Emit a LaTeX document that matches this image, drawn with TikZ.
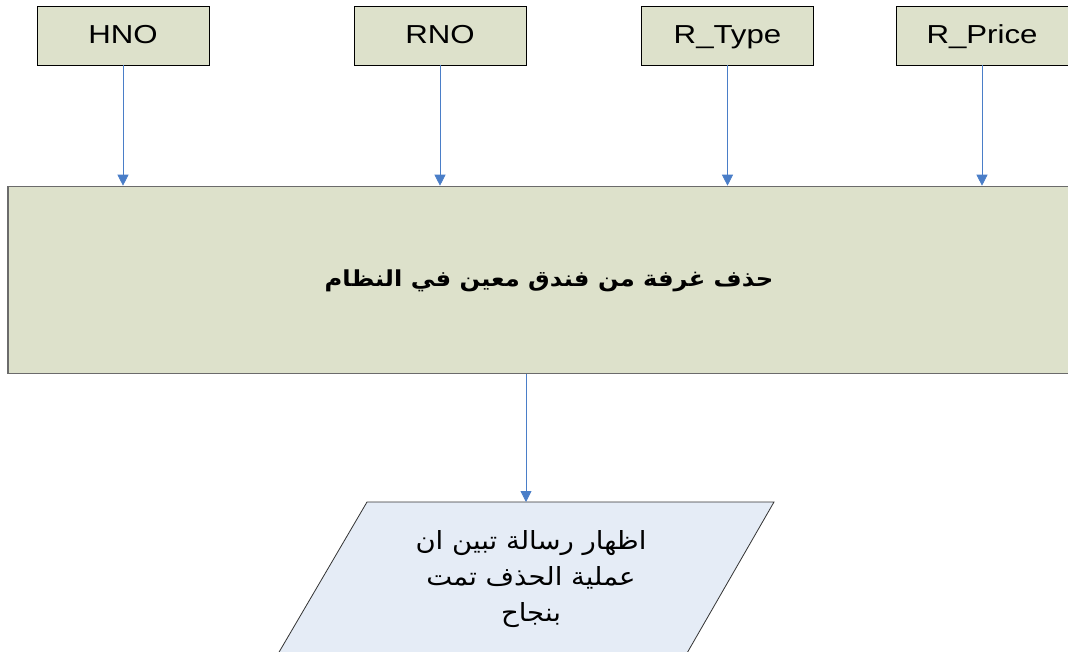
\documentclass[tikz,border=0pt]{standalone}
\usepackage{fontspec}
\setmainfont{Liberation Sans}[FakeStretch=1.2]
\newfontfamily\arabicfont[Script=Arabic,FakeStretch=1.1]{DejaVu Sans}
\TeXXeTstate=1
\usetikzlibrary{arrows.meta}
\definecolor{boxfill}{HTML}{DDE1CB}
\definecolor{msgfill}{HTML}{E5ECF6}
\definecolor{arrowblue}{HTML}{4A7EC8}
\definecolor{bigborder}{HTML}{6B6B6B}
\tikzset{
  attr/.style={draw=black, line width=0.9pt, fill=boxfill, minimum width=172pt, minimum height=59pt, inner sep=0pt, text height=19pt, text depth=3pt, font=\fontsize{26}{30}\selectfont},
  bigbox/.style={draw=bigborder, line width=1.6pt, fill=boxfill, minimum width=1082pt, minimum height=187pt, inner sep=0pt},
  flow/.style={draw=arrowblue, line width=0.8pt, -{Triangle[width=11pt,length=11pt,fill=arrowblue]}},
  msgshape/.style={draw=black!80, line width=0.8pt, fill=msgfill},
  artext/.style={font=\arabicfont\fontsize{25}{36}\selectfont, align=center, inner sep=0pt}
}
\begin{document}
\begin{tikzpicture}[x=1pt,y=-1pt]
\useasboundingbox (0,0) rectangle (1068,652);
\fill[white] (0,0) rectangle (1068,652);
% top attribute boxes
\node[attr] (hno)    at (123,35.5) {HNO};
\node[attr] (rno)    at (440,35.5) {RNO};
\node[attr] (rtype)  at (727.5,35.5) {R\_Type};
\node[attr] (rprice) at (982,35.5) {R\_Price};
% main process box
\node[bigbox] (big) at (549,280) {};
\node[artext, font=\arabicfont\bfseries\fontsize{22}{24}\selectfont] (bigtext) at (549,281) {\beginR حذف غرفة من فندق معين في النظام\endR};
% output parallelogram
\coordinate (ptl) at (367,502);
\coordinate (ptr) at (774,502);
\coordinate (pbr) at (660,700);
\coordinate (pbl) at (251,700);
\path[msgshape] (ptl) -- (ptr) -- (pbr) -- (pbl) -- cycle;
\coordinate (pin) at (526,502);
\node[artext] (msg) at (531,579) {\beginR اظهار رسالة تبين ان\endR\\ \beginR عملية الحذف تمت\endR\\ \beginR بنجاح\endR};
% connectors
\draw[flow] (hno.south) -- (hno.south |- big.north);
\draw[flow] (rno.south) -- (rno.south |- big.north);
\draw[flow] (rtype.south) -- (rtype.south |- big.north);
\draw[flow] (rprice.south) -- (rprice.south |- big.north);
\draw[flow] (pin |- big.south) -- (pin);
\end{tikzpicture}
\end{document}
